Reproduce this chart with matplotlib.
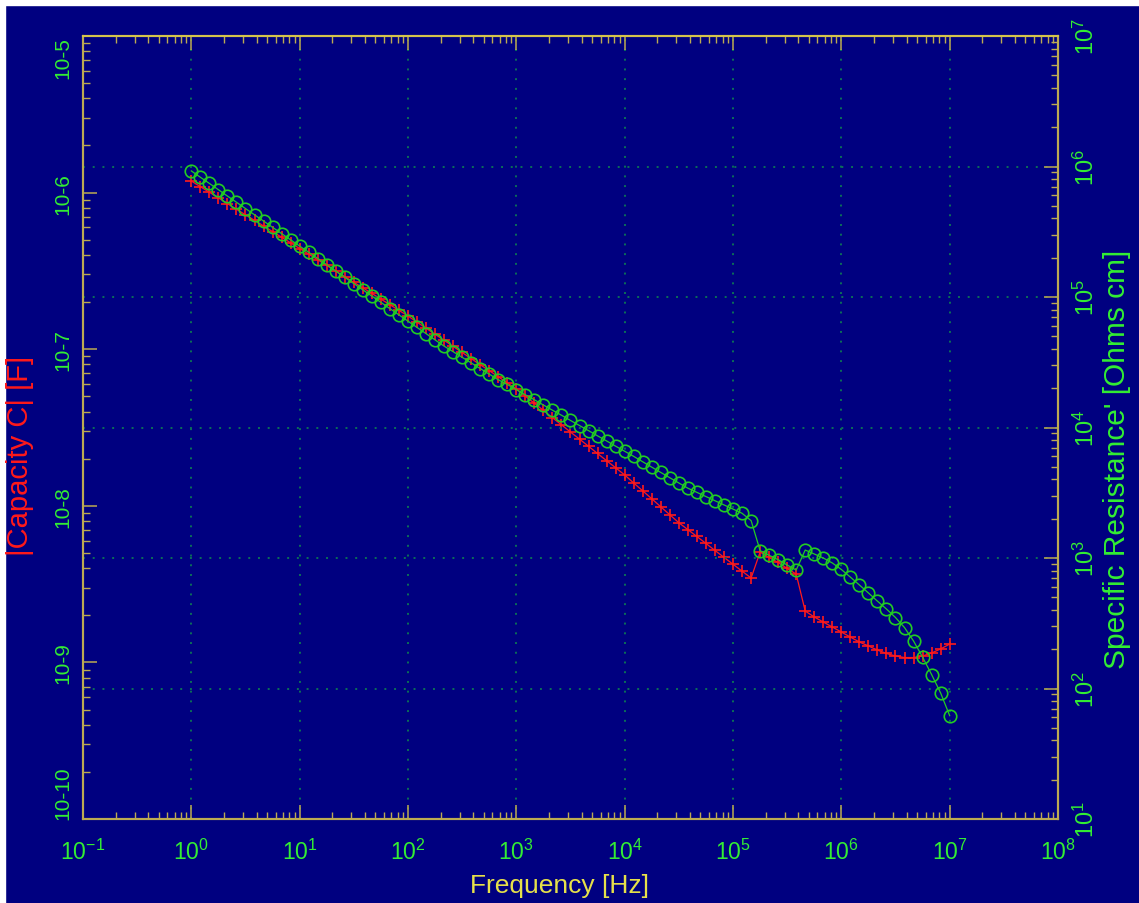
# Kapazitaet / spezifischer Widerstand ueber Frequenz

import matplotlib
matplotlib.use('Agg')
import matplotlib.pyplot as plt
import numpy as np
from matplotlib.ticker import FixedLocator, LogLocator, FuncFormatter, NullFormatter
from matplotlib.patches import Rectangle

plt.rcParams['font.family'] = ['Liberation Sans', 'DejaVu Sans']
plt.rcParams['mathtext.default'] = 'regular'

# Messfrequenzen [Hz], 12 Punkte pro Dekade
freq = [
    1.00e0, 1.21e0, 1.47e0, 1.78e0, 2.15e0, 2.61e0, 3.16e0, 3.83e0, 4.64e0, 5.62e0, 6.81e0, 8.25e0,
    1.00e1, 1.21e1, 1.47e1, 1.78e1, 2.15e1, 2.61e1, 3.16e1, 3.83e1, 4.64e1, 5.62e1, 6.81e1, 8.25e1,
    1.00e2, 1.21e2, 1.47e2, 1.78e2, 2.15e2, 2.61e2, 3.16e2, 3.83e2, 4.64e2, 5.62e2, 6.81e2, 8.25e2,
    1.00e3, 1.21e3, 1.47e3, 1.78e3, 2.15e3, 2.61e3, 3.16e3, 3.83e3, 4.64e3, 5.62e3, 6.81e3, 8.25e3,
    1.00e4, 1.21e4, 1.47e4, 1.78e4, 2.15e4, 2.61e4, 3.16e4, 3.83e4, 4.64e4, 5.62e4, 6.81e4, 8.25e4,
    1.00e5, 1.21e5, 1.47e5, 1.78e5, 2.15e5, 2.61e5, 3.16e5, 3.83e5, 4.64e5, 5.62e5, 6.81e5, 8.25e5,
    1.00e6, 1.21e6, 1.47e6, 1.78e6, 2.15e6, 2.61e6, 3.16e6, 3.83e6, 4.64e6, 5.62e6, 6.81e6, 8.25e6,
    1.00e7,
]

# log10 |C| [F]
log_cap = [
    -5.926, -5.962, -5.998, -6.034, -6.070, -6.106, -6.142, -6.177, -6.213, -6.249, -6.285, -6.321,
    -6.357, -6.393, -6.429, -6.465, -6.501, -6.537, -6.573, -6.608, -6.644, -6.680, -6.716, -6.752,
    -6.788, -6.827, -6.866, -6.905, -6.943, -6.982, -7.021, -7.060, -7.099, -7.137, -7.176, -7.215,
    -7.254, -7.300, -7.345, -7.391, -7.437, -7.483, -7.529, -7.574, -7.620, -7.666, -7.712, -7.757,
    -7.803, -7.854, -7.905, -7.955, -8.006, -8.057, -8.108, -8.152, -8.196, -8.240, -8.285, -8.329,
    -8.373, -8.417, -8.461, -8.295, -8.330, -8.362, -8.400, -8.436, -8.672, -8.710, -8.742, -8.774,
    -8.806, -8.838, -8.870, -8.895, -8.921, -8.943, -8.959, -8.969, -8.969, -8.959, -8.940, -8.914,
    -8.883,
]

# log10 spez. Widerstand' [Ohm cm]
log_res = [
    5.966, 5.918, 5.870, 5.822, 5.774, 5.726, 5.678, 5.630, 5.582, 5.534, 5.486, 5.438,
    5.390, 5.343, 5.295, 5.247, 5.199, 5.151, 5.103, 5.055, 5.007, 4.959, 4.911, 4.863,
    4.815, 4.767, 4.719, 4.671, 4.624, 4.581, 4.538, 4.495, 4.452, 4.409, 4.366, 4.330,
    4.291, 4.251, 4.212, 4.172, 4.133, 4.094, 4.054, 4.015, 3.976, 3.936, 3.897, 3.857,
    3.818, 3.779, 3.737, 3.696, 3.656, 3.615, 3.575, 3.535, 3.503, 3.471, 3.439, 3.407,
    3.375, 3.343, 3.286, 3.056, 3.021, 2.987, 2.946, 2.908, 3.061, 3.031, 3.000, 2.962,
    2.912, 2.854, 2.793, 2.732, 2.670, 2.609, 2.544, 2.467, 2.364, 2.241, 2.107, 1.966,
    1.792,
]

x_decades = [-1, 0, 1, 2, 3, 4, 5, 6, 7, 8]
cap_decades = [-10, -9, -8, -7, -6, -5]
res_decades = [1, 2, 3, 4, 5, 6, 7]

NAVY = '#000080'
FRAME = '#bcaa52'
RED = '#ff1a1a'
GREEN = '#22cc22'
LABEL_GREEN = '#33ee33'
YELLOW = '#e6e04a'
GRID = '#0c6e58'

fig = plt.figure(figsize=(11.39, 9.04), dpi=100, facecolor=NAVY)
# weisser Rand oben und links
fig.add_artist(Rectangle((0, 0), 5 / 1139, 1, transform=fig.transFigure, color='white', zorder=-1))
fig.add_artist(Rectangle((0, 1 - 6 / 904), 1, 6 / 904, transform=fig.transFigure, color='white', zorder=-1))

ax = fig.add_axes([83 / 1139, 1 - 820 / 904, 975 / 1139, 783 / 904])
ax.set_facecolor(NAVY)
ax.set_xscale('log')
ax.set_yscale('log')
ax.set_xlim(10.0 ** x_decades[0], 10.0 ** x_decades[-1])
ax.set_ylim(10.0 ** cap_decades[0], 10.0 ** cap_decades[-1])

ax.plot(freq, 10.0 ** np.array(log_cap), color=RED, lw=0.9, marker='+', ms=9, mew=1.2)

ax2 = ax.twinx()
ax2.set_yscale('log')
ax2.set_ylim(10.0 ** res_decades[0], 10.0 ** res_decades[-1])
ax2.plot(freq, 10.0 ** np.array(log_res), color=GREEN, lw=0.9, marker='o', ms=9,
         mfc='none', mec=GREEN, mew=1.2)

# Achsen / Ticks
sup = FuncFormatter(lambda v, p: r'$10^{%d}$' % round(np.log10(v)))
ax.xaxis.set_major_locator(FixedLocator(10.0 ** np.array(x_decades)))
ax.xaxis.set_minor_locator(LogLocator(base=10, subs=np.arange(2, 10), numticks=30))
ax.xaxis.set_major_formatter(sup)
ax.xaxis.set_minor_formatter(NullFormatter())

ax.yaxis.set_major_locator(FixedLocator(10.0 ** np.array(cap_decades)))
ax.yaxis.set_minor_locator(LogLocator(base=10, subs=np.arange(2, 10), numticks=30))
ax.yaxis.set_major_formatter(FuncFormatter(lambda v, p: '10%d' % round(np.log10(v))))
ax.yaxis.set_minor_formatter(NullFormatter())

ax2.yaxis.set_major_locator(FixedLocator(10.0 ** np.array(res_decades)))
ax2.yaxis.set_minor_locator(LogLocator(base=10, subs=np.arange(2, 10), numticks=30))
ax2.yaxis.set_major_formatter(sup)
ax2.yaxis.set_minor_formatter(NullFormatter())

ax.tick_params(axis='x', which='both', direction='in', top=True, bottom=True,
               color=FRAME, labelcolor=LABEL_GREEN, labelsize=16.5, pad=14)
ax.tick_params(axis='y', which='both', direction='in', left=True, right=False,
               color=FRAME, labelcolor=LABEL_GREEN, labelsize=15, labelrotation=90, pad=8)
ax2.tick_params(axis='y', which='both', direction='in', left=False, right=True,
                color=FRAME, labelcolor=LABEL_GREEN, labelsize=17, labelrotation=90, pad=11)
for a in (ax, ax2):
    a.tick_params(which='major', length=10, width=1.1)
    a.tick_params(which='minor', length=5, width=1.0)
    for s in a.spines.values():
        s.set_color(FRAME)
        s.set_linewidth(1.5)
ax2.spines['top'].set_color('#d4c44c')

yt = ax.yaxis.get_major_ticks()
for t in yt:
    t.label1.set_va('center')
yt[0].label1.set_va('bottom')
yt[-1].label1.set_va('top')
for t in ax2.yaxis.get_major_ticks():
    t.label2.set_va('center')

# Gitter
ax.grid(True, axis='x', which='major', color=GRID, linestyle=(0, (1, 4)), linewidth=1.4)
ax2.grid(True, axis='y', which='major', color=GRID, linestyle=(0, (1, 4)), linewidth=1.4)

# Beschriftungen
ax.set_xlabel('Frequency [Hz]', color=YELLOW, fontsize=19)
ax.xaxis.set_label_coords(0.489, -0.084)
ax.xaxis.label.set_va('center')
ax.set_ylabel('|Capacity C| [F]', color=RED, fontsize=21)
ax.yaxis.set_label_coords(-0.065, 0.465)
ax.yaxis.label.set_va('center')
ax2.set_ylabel("Specific Resistance' [Ohms cm]", color=LABEL_GREEN, fontsize=21.5)
ax2.yaxis.set_label_coords(1.061, 0.46)
ax2.yaxis.label.set_va('center')

fig.savefig('out.png', dpi=100, facecolor=fig.get_facecolor())
